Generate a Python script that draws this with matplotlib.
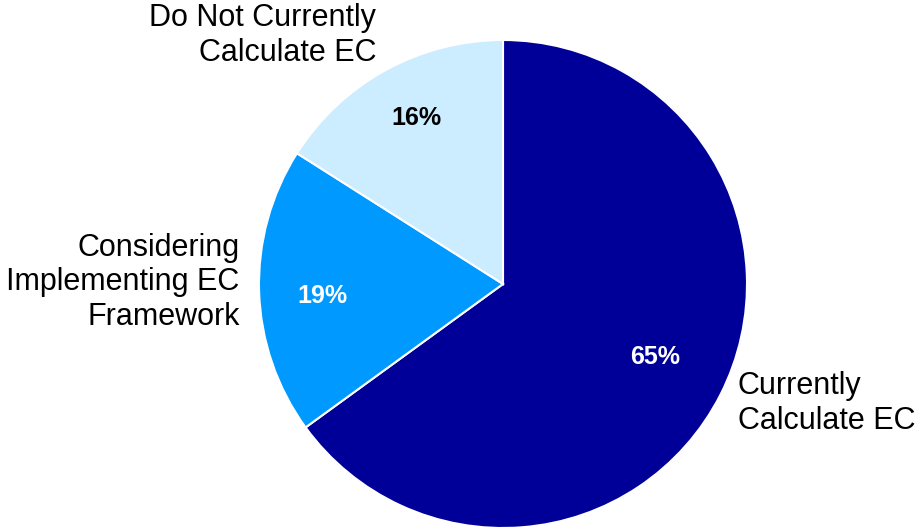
import matplotlib
matplotlib.use("Agg")
import matplotlib.pyplot as plt

labels = ["Currently\nCalculate EC", "Considering\nImplementing EC\nFramework", "Do Not Currently\nCalculate EC"]
shares = [65, 19, 16]
colors = ["#000099", "#0099FF", "#CCECFF"]
pct_colors = ["white", "white", "black"]

plt.rcParams["font.family"] = ["Liberation Sans", "DejaVu Sans"]

fig = plt.figure(figsize=(9.15, 5.27), dpi=100)
ax = fig.add_axes([0, 0, 1, 1])

r_px = 244
cx, cy = 503, 284  # pie centre in pixels (from top-left)
wedges, texts, autotexts = ax.pie(
    shares, labels=labels, colors=colors, startangle=90, counterclock=False,
    autopct="%d%%", pctdistance=0.7, labeldistance=1.08,
    wedgeprops=dict(edgecolor="white", linewidth=1.5),
    textprops=dict(fontsize=22),
)
for t, c in zip(autotexts, pct_colors):
    t.set_color(c)
    t.set_fontsize(18)
    t.set_fontweight("bold")

# small offsets (pixels) so labels sit where the original has them
label_nudge = [(0, 0), (0, 10), (0, 0)]
pct_nudge = [(0, 5), (-10, -7), (-4, 16)]
for t, (dx, dy) in zip(texts, label_nudge):
    x, y = t.get_position()
    t.set_position((x + dx / r_px, y + dy / r_px))
for t, (dx, dy) in zip(autotexts, pct_nudge):
    x, y = t.get_position()
    t.set_position((x + dx / r_px, y + dy / r_px))

# lift the top label a little, like the original
x, y = texts[2].get_position()
texts[2].set_position((x, y * 1.075))

ax.set_xlim(-cx / r_px, (915 - cx) / r_px)
ax.set_ylim(-(527 - cy) / r_px, cy / r_px)
ax.set_aspect("auto")
ax.axis("off")

fig.savefig("out.png", dpi=100)
